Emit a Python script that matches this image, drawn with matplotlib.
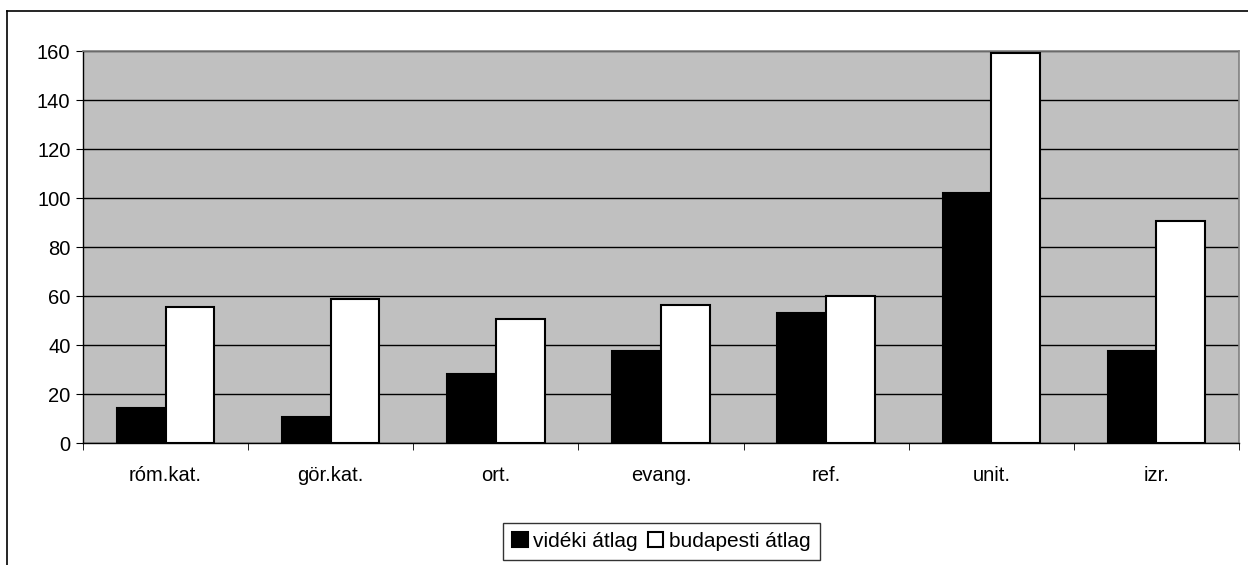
import matplotlib
matplotlib.use("Agg")
from matplotlib import pyplot as plt
from matplotlib.lines import Line2D
import numpy as np

plt.rcParams['font.family'] = ['Liberation Sans', 'DejaVu Sans']

categories = ["róm.kat.", "gör.kat.", "ort.", "evang.", "ref.", "unit.", "izr."]
videki = [14.3, 10.9, 28.1, 37.8, 53.3, 102.2, 37.8]
budapesti = [55.5, 58.7, 50.6, 56.3, 60.2, 159.1, 90.5]

fig = plt.figure(figsize=(12.48, 5.65), dpi=100)
ax = fig.add_axes([0.0665, 0.2154, 0.9263, 0.6943])

x = np.arange(len(categories))
w = 0.295
ax.set_facecolor("#C0C0C0")
ax.set_axisbelow(True)
ax.yaxis.grid(True, color="black", linewidth=1)
ax.bar(x - w/2, videki, w, color="black", edgecolor="black", linewidth=1.5, label="vidéki átlag")
ax.bar(x + w/2, budapesti, w, color="white", edgecolor="black", linewidth=1.5, label="budapesti átlag")

ax.set_xlim(-0.5, len(categories) - 0.5)
ax.set_ylim(0, 160)
ax.set_yticks(range(0, 161, 20))
ax.set_xticks(x)
ax.set_xticklabels(categories)
ax.set_xticks(np.arange(-0.5, len(categories)), minor=True)
ax.tick_params(axis="x", which="major", length=0, pad=16, labelsize=14.5)
ax.tick_params(axis="x", which="minor", length=5, direction="out", color="black")
ax.tick_params(axis="y", length=5, direction="out", labelsize=14.5, pad=4)

for s in ["top", "right"]:
    ax.spines[s].set_color("#808080")
    ax.spines[s].set_linewidth(1.2)
for s in ["left", "bottom"]:
    ax.spines[s].set_color("black")
    ax.spines[s].set_linewidth(1)

leg = ax.legend(loc="center", bbox_to_anchor=(0.5297, 0.0416), bbox_transform=fig.transFigure,
                ncol=2, frameon=True, fancybox=False, edgecolor="black", fontsize=15,
                handlelength=0.75, handleheight=0.75, handletextpad=0.25, columnspacing=0.5,
                borderpad=0.45, borderaxespad=0)
leg.get_frame().set_linewidth(1)

# outer chart border (left and top edges visible)
fig.add_artist(Line2D([0.0056, 0.0056], [0, 0.9805], color="black", linewidth=1.2, transform=fig.transFigure))
fig.add_artist(Line2D([0.0056, 1.0], [0.9805, 0.9805], color="black", linewidth=1.2, transform=fig.transFigure))

plt.savefig("out.png", dpi=100)
